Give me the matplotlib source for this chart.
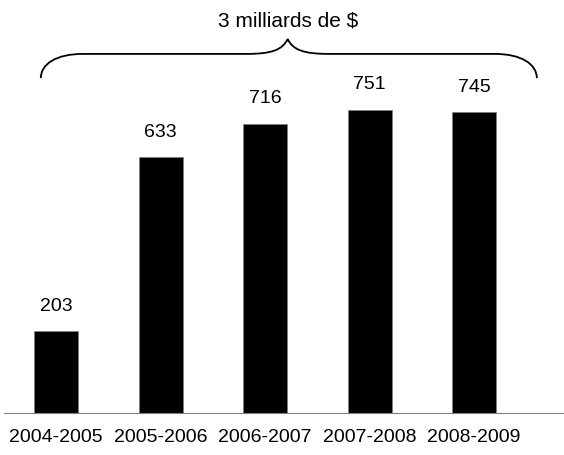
import numpy as np
import matplotlib.pyplot as plt
from matplotlib.path import Path
from matplotlib.patches import PathPatch

plt.rcParams['font.family'] = ['Liberation Sans', 'DejaVu Sans']

periodes = ['2004-2005', '2005-2006', '2006-2007', '2007-2008', '2008-2009']
valeurs = [203, 633, 716, 751, 745]
titre = '3 milliards de $'

fig = plt.figure(figsize=(5.64, 4.56), dpi=100)
# axes: x from 4px to 564px, baseline at 414px
ax = fig.add_axes([4 / 564, (456 - 414) / 456, 560 / 564, 414 / 456])

x = np.arange(len(periodes))
ax.bar(x, valeurs, width=0.42, color='black', edgecolor='#808080', linewidth=0.5)

for xi, v in zip(x, valeurs):
    ax.text(xi, v + 64, str(v), ha='center', va='center', fontsize=14)

ax.set_xlim(-0.5, 4.86)
ax.set_ylim(0, 1025)
ax.set_yticks([])
ax.set_xticks([])
for s in ['top', 'right', 'left']:
    ax.spines[s].set_visible(False)
ax.spines['bottom'].set_color('#808080')

for xi, lab in zip(x, periodes):
    ax.text(xi, -58, lab, ha='center', va='center', fontsize=14, clip_on=False)

# accolade
xl, xr, xc = -0.148, 4.6, 2.215
yb, yf, yt = 829, 889, 926
verts = [
    (xl, yb), (xl, yf - 25), (xl + 0.15, yf), (xl + 0.4, yf),
    (xc - 0.4, yf),
    (xc - 0.15, yf), (xc - 0.05, yf + 10), (xc, yt),
    (xc + 0.05, yf + 10), (xc + 0.15, yf), (xc + 0.4, yf),
    (xr - 0.4, yf),
    (xr - 0.15, yf), (xr, yf - 25), (xr, yb),
]
codes = [Path.MOVETO, Path.CURVE4, Path.CURVE4, Path.CURVE4,
         Path.LINETO,
         Path.CURVE4, Path.CURVE4, Path.CURVE4,
         Path.CURVE4, Path.CURVE4, Path.CURVE4,
         Path.LINETO,
         Path.CURVE4, Path.CURVE4, Path.CURVE4]
ax.add_patch(PathPatch(Path(verts, codes), facecolor='none', edgecolor='black',
                       linewidth=1.3, clip_on=False))

ax.text(xc, 972, titre, ha='center', va='center', fontsize=15)

fig.savefig('out.png', dpi=100)
